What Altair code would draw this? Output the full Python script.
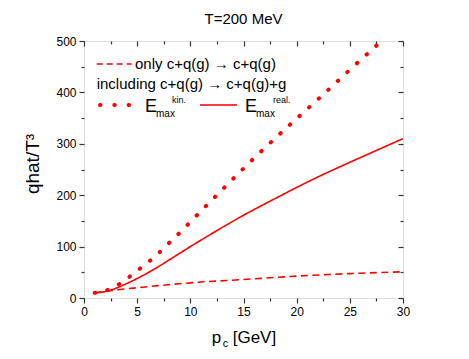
import altair as alt
import pandas as pd

# ---- data ----
p_only = [1, 2, 3, 4, 5, 7, 10, 15, 20, 25, 30]
q_only = [10, 13, 15.5, 18, 20, 24, 29.5, 36, 42.5, 47.5, 51]

p_kin = [1, 2, 3, 4, 5, 6, 7, 8, 9, 10, 12, 15, 17, 20, 22.5, 25, 28, 29]
q_kin = [10, 14, 23, 37, 53, 69, 87, 107, 127, 148, 190, 252, 292, 349, 396, 444, 500, 518]

p_real = [1, 2, 3, 4, 5, 6, 7, 8, 9, 10, 12, 15, 17, 20, 22, 25, 27, 30]
q_real = [10, 12.5, 19, 28, 38, 49, 61, 74, 87, 100, 125, 161, 183, 215, 235.5, 264, 282.5, 310]

x_major = [0, 5, 10, 15, 20, 25, 30]
x_minor = [2.5, 7.5, 12.5, 17.5, 22.5, 27.5]
y_major = [0, 100, 200, 300, 400, 500]
y_minor = [50, 150, 250, 350, 450]

FONT = "Liberation Sans"
RED = "#ff0000"
W, H = 319, 257

df_only = pd.DataFrame({"p": p_only, "q": q_only})
df_kin = pd.DataFrame({"p": p_kin, "q": q_kin})
df_real = pd.DataFrame({"p": p_real, "q": q_real})

xs = alt.Scale(domain=[0, 30], nice=False, zero=False)
ys = alt.Scale(domain=[0, 500], nice=False, zero=False)


def ax(orient, values, size, offset=0, labels=False):
    kw = dict(orient=orient, values=values, tickSize=size, domain=False, grid=False,
              labels=labels, title=None, tickColor="#333333", tickWidth=1.2)
    if offset:
        kw["offset"] = offset
    if labels:
        kw.update(labelFont=FONT, labelFontSize=12, labelColor="black", labelPadding=3,
                  labelFlush=False, labelOverlap=False)
    return alt.Axis(**kw)


def line(df, dash, width, cap, xaxis, yaxis, opacity=1):
    return alt.Chart(df).mark_line(color=RED, strokeDash=dash, strokeWidth=width,
                                   strokeCap=cap, interpolate="monotone", clip=True,
                                   opacity=opacity).encode(
        x=alt.X("p:Q", scale=xs, axis=xaxis),
        y=alt.Y("q:Q", scale=ys, axis=yaxis),
    )


one = alt.Data(values=[{}])


def txt(text, x, y, size, align="left", baseline="alphabetic", angle=0):
    kw = dict(text=text, align=align, baseline=baseline, font=FONT, fontSize=size, color="black")
    if angle:
        kw["angle"] = angle
    return alt.Chart(one).mark_text(**kw).encode(x=alt.value(x), y=alt.value(y))


def rule(x1, x2, y, dash, width, cap, color=RED):
    return alt.Chart(one).mark_rule(color=color, strokeDash=dash, strokeWidth=width,
                                    strokeCap=cap).encode(
        x=alt.value(x1), x2=alt.value(x2), y=alt.value(y))


l_only = line(df_only, [7, 4.5], 1.6, "butt",
              ax("bottom", x_major, 5, labels=True), ax("left", y_major, 5, labels=True))
l_kin = line(df_kin, [0.5, 12.5], 4, "round",
             ax("bottom", x_minor, 3), ax("left", y_minor, 3))
l_real = line(df_real, [1, 0], 1.6, "butt",
              ax("top", x_major, 5, offset=-5), ax("right", y_major, 5, offset=-5))
l_ghost = line(df_only, [1, 0], 1, "butt",
               ax("top", x_minor, 3, offset=-3), ax("right", y_minor, 3, offset=-3), opacity=0)

texts = [
    txt("T=200 MeV", W / 2, -17, 15, align="center"),
    txt("qhat/T³", -45, 123, 19, align="center", angle=270),
    txt("p", 127.7, 302, 17),
    txt("c", 138.7, 306, 11),
    txt("[GeV]", 148.7, 302, 17),
    # legend
    txt("only c+q(g) → c+q(g)", 51, 28, 15),
    txt("including c+q(g) → c+q(g)+g", 12.7, 48, 15),
    txt("E", 61, 71, 18),
    txt("max", 72, 76, 10),
    txt("kin.", 88, 62, 9),
    txt("E", 161, 71, 18),
    txt("max", 172, 76, 10),
    txt("real.", 189, 62, 9),
]
rules = [
    rule(12.7, 47.7, 23, [6, 4], 1.6, "butt"),
    rule(16, 46, 64, [0.5, 13.8], 4, "round"),
    rule(116, 153, 64, [1, 0], 1.6, "butt"),
]

chart = alt.layer(l_only, l_kin, l_real, l_ghost, *rules, *texts).resolve_axis(
    x="independent", y="independent"
).properties(
    width=W, height=H,
    autosize=alt.AutoSizeParams(type="none"),
    padding={"left": 76, "top": 33, "right": 42, "bottom": 50},
).configure_view(stroke="#333333", strokeWidth=1.2).configure(background="white")

chart.save("out.html", embed_options={"renderer": "svg", "actions": False})
